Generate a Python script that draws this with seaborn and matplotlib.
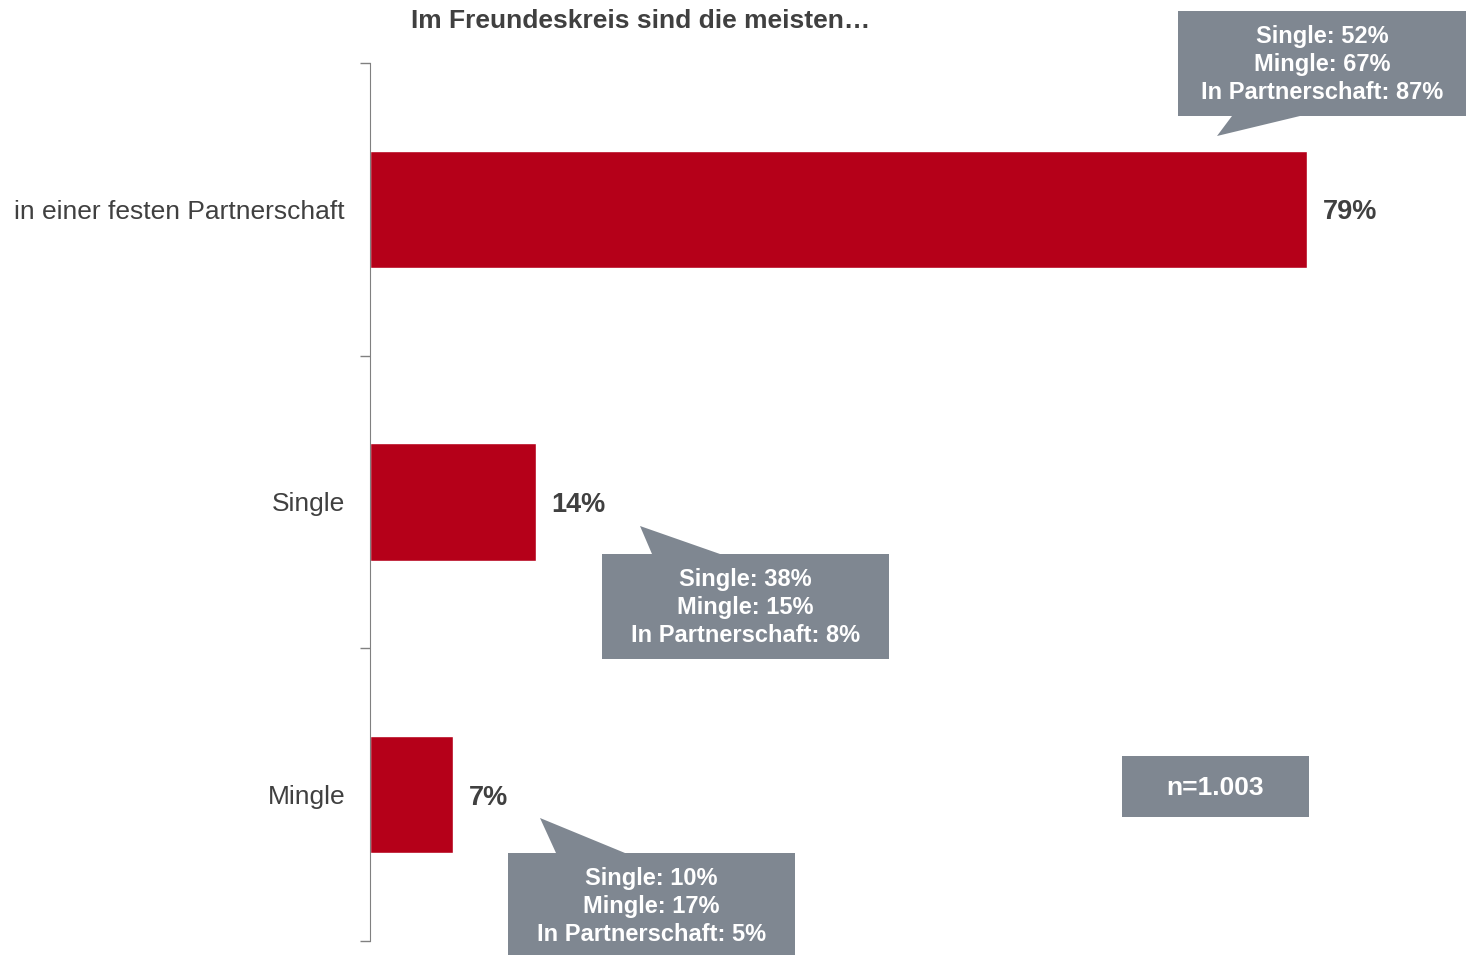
import matplotlib.pyplot as plt
import seaborn as sns
import pandas as pd
from matplotlib.patches import Polygon

categories = ['in einer festen Partnerschaft', 'Single', 'Mingle']
values = [79, 14, 7]
value_labels = ['79%', '14%', '7%']
callout_texts = [
    'Single: 52%\nMingle: 67%\nIn Partnerschaft: 87%',
    'Single: 38%\nMingle: 15%\nIn Partnerschaft: 8%',
    'Single: 10%\nMingle: 17%\nIn Partnerschaft: 5%',
]
title = 'Im Freundeskreis sind die meisten\u2026'
sample_note = 'n=1.003'

sns.set_style('white')
plt.rcParams['font.family'] = ['Liberation Sans', 'DejaVu Sans']

W, H = 1467, 955
fig = plt.figure(figsize=(W / 100, H / 100), dpi=100)
ax = fig.add_axes([370 / W, 1 - 941 / H, (W - 370) / W, (941 - 63) / H])

df = pd.DataFrame({'cat': categories, 'val': values})
sns.barplot(data=df, y='cat', x='val', orient='h', color='#B50019',
            saturation=1, width=0.4, ax=ax)

scale = 937 / 79  # pixels per percent
ax.set_xlim(0, (W - 370) / scale)
ax.set_ylim(2.5, -0.5)
ax.set_xlabel('')
ax.set_ylabel('')
ax.set_xticks([])

# boundary ticks on the axis, labels at category centres
ax.set_yticks([-0.5, 0.5, 1.5, 2.5])
ax.set_yticklabels([])
ax.tick_params(axis='y', which='major', length=7, width=1, color='#808080', direction='out', left=True)
ax.set_yticks(range(len(categories)), minor=True)
ax.set_yticklabels(categories, minor=True)
ax.tick_params(axis='y', which='minor', length=0, pad=18, labelsize=19, labelcolor='#404040')

for s in ['top', 'right', 'bottom']:
    ax.spines[s].set_visible(False)
ax.spines['left'].set_color('#808080')

for i, (v, lab) in enumerate(zip(values, value_labels)):
    ax.text(v + 1.3, i + 0.01, lab, va='center', ha='left', fontsize=19.5,
            fontweight='bold', color='#404040')

fig.text(641 / W, 1 - 21 / H, title, ha='center', va='center', fontsize=19,
         fontweight='bold', color='#404040')

box_color = '#7F8791'


def px(x, y):
    return (x / W, 1 - y / H)


def callout(rect, tail, text, fs=17):
    x0, y0, x1, y1 = rect
    poly = [px(x0, y0), px(x1, y0), px(x1, y1), px(x0, y1)]
    fig.patches.append(Polygon(poly, closed=True, transform=fig.transFigure,
                               facecolor=box_color, edgecolor='none'))
    if tail:
        fig.patches.append(Polygon([px(*p) for p in tail], closed=True,
                                   transform=fig.transFigure,
                                   facecolor=box_color, edgecolor='none'))
    fig.text(*px((x0 + x1) / 2, (y0 + y1) / 2 + 1), text, ha='center', va='center',
             fontsize=fs, fontweight='bold', color='white', linespacing=1.3)


callout((1178, 11, 1466, 116), [(1232, 116), (1300, 116), (1217, 136)], callout_texts[0])
callout((602, 554, 889, 659), [(652, 554), (720, 554), (640, 526)], callout_texts[1])
callout((508, 853, 795, 958), [(556, 853), (625, 853), (540, 818)], callout_texts[2])
callout((1122, 756, 1309, 817), None, sample_note, fs=19)

fig.savefig('out.png', dpi=100)
